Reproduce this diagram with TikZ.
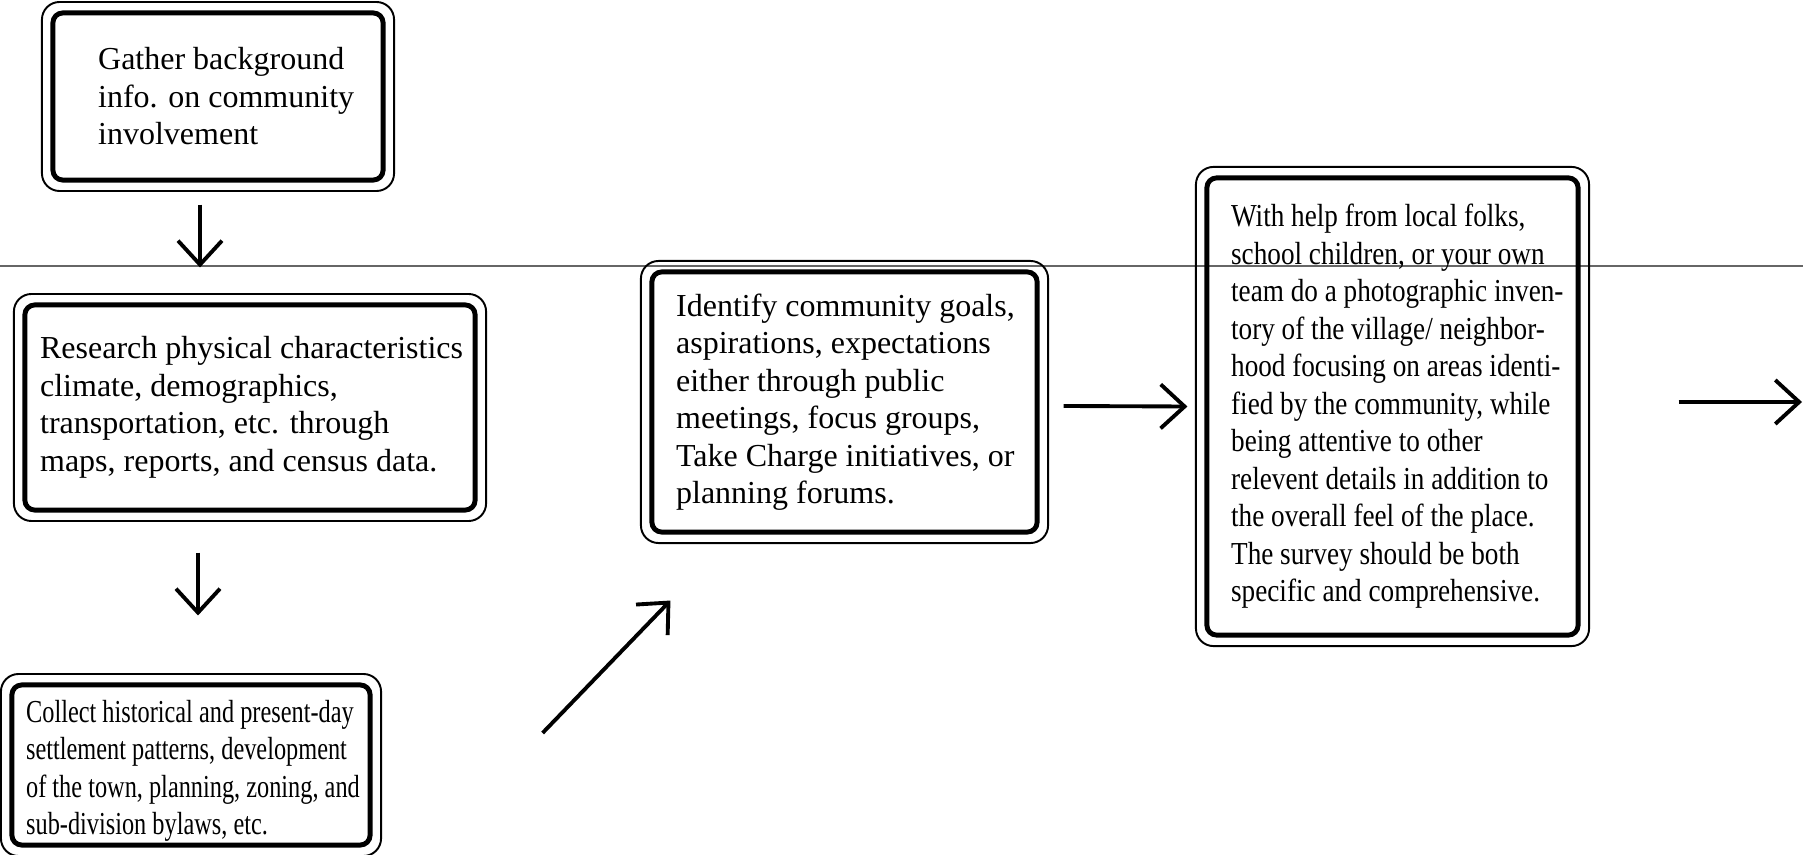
\documentclass[tikz,border=0pt]{standalone}
\usepackage{fontspec}
\setmainfont{Liberation Serif}
\newfontfamily\condfont[FakeStretch=0.76]{Liberation Serif}
\newfontfamily\semicondfont[FakeStretch=0.85]{Liberation Serif}
\usetikzlibrary{arrows.meta}
\tikzset{
stepbox/.style={
	draw, line width=1.4pt, rounded corners=2.8pt, inner sep=0pt},
steptext/.style={
	anchor=west, inner sep=0pt, align=left,
	font=\fontsize{9.1pt}{10.67pt}\selectfont},
rim/.style={line width=0.55pt, rounded corners=5pt},
flow/.style={line width=1.1pt,
	-{Straight Barb[length=6.8pt,width=12.5pt]}},
scanline/.style={gray!80!black, line width=0.35pt}
}

\begin{document}
\begin{tikzpicture}[x=0.01cm, y=-0.01cm]
	\useasboundingbox (0,0) rectangle (1803,855);
	\draw[scanline] (0,266) -- (1803,266);

	\node[stepbox, minimum width=3.30cm, minimum height=1.67cm] (gather) at (218,96.5) {};
	\node[stepbox, minimum width=4.50cm, minimum height=2.05cm] (research) at (250,407.5) {};
	\node[stepbox, minimum width=3.58cm, minimum height=1.60cm] (collect) at (191,765) {};
	\node[stepbox, minimum width=3.85cm, minimum height=2.60cm] (goals) at (844.5,402) {};
	\node[stepbox, minimum width=3.71cm, minimum height=4.57cm] (survey) at (1392.5,406.5) {};

	% thin outer rim of each box
	\foreach \n in {gather,research,collect,goals,survey}
		\draw[rim] ([shift={(-8.5,-8.5)}]\n.north west) rectangle ([shift={(8.5,8.5)}]\n.south east);

	\node[steptext] (gather-txt) at ([shift={(47,0)}]gather.west)
		{Gather background\\ info. on community\\ involvement};
	\node[steptext] (research-txt) at ([shift={(17,0)}]research.west)
		{Research physical characteristics\\ climate, demographics,\\
		transportation, etc. through\\ maps, reports, and census data.};
	\node[steptext, font=\condfont\fontsize{9.1pt}{10.67pt}\selectfont] (collect-txt)
		at ([shift={(16,6)}]collect.west)
		{Collect historical and present-day\\ settlement patterns, development\\
		of the town, planning, zoning, and\\ sub-division bylaws, etc.};
	\node[steptext] (goals-txt) at ([shift={(26,0)}]goals.west)
		{Identify community goals,\\ aspirations, expectations\\
		either through public\\ meetings, focus groups,\\
		Take Charge initiatives, or\\ planning forums.};
	\node[steptext, font=\semicondfont\fontsize{9.1pt}{10.67pt}\selectfont] (survey-txt)
		at ([shift={(26,0)}]survey.west)
		{With help from local folks,\\ school children, or your own\\
		team do a photographic inven-\\ tory of the village/ neighbor-\\
		hood focusing on areas identi-\\ fied by the community, while\\
		being attentive to other\\ relevent details in addition to\\
		the overall feel of the place.\\ The survey should be both\\
		specific and comprehensive.};

	\coordinate (next) at (1802,402);
	\draw[flow] ([shift={(-18,22)}]gather.south) -- ([shift={(-50,-35)}]research.north);
	\draw[flow] ([shift={(-52,40)}]research.south) -- ([shift={(7,-67)}]collect.north);
	\draw[flow] ([shift={(170,-32)}]collect.east) -- ([shift={(21,66)}]goals.south west);
	\draw[flow] ([shift={(24,4)}]goals.east) -- ([shift={(-17,0)}]survey.west);
	\draw[flow] ([shift={(98,-4.5)}]survey.east) -- (next);
\end{tikzpicture}
\end{document}
